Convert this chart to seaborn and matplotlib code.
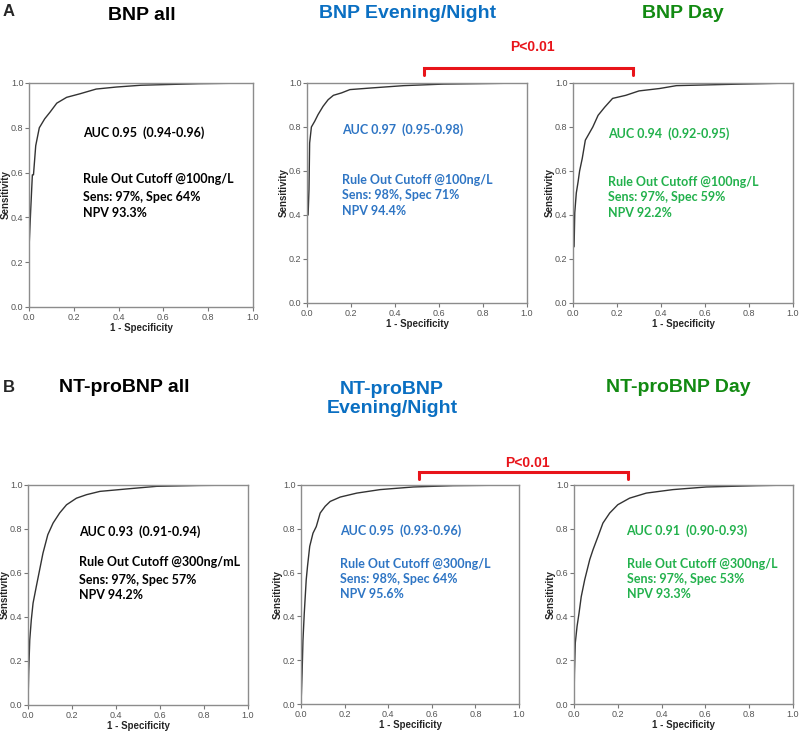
import pandas as pd
import matplotlib.pyplot as plt
import matplotlib.lines as mlines
import seaborn as sns

# ROC points (1 - specificity, sensitivity)
bnp_all_x = [0, 0, 0.007, 0.015, 0.02, 0.03, 0.046, 0.07, 0.094, 0.124, 0.168, 0.228, 0.30, 0.39, 0.50, 0.76, 1.0]
bnp_all_y = [0, 0.26, 0.42, 0.59, 0.59, 0.72, 0.80, 0.84, 0.87, 0.91, 0.936, 0.952, 0.973, 0.982, 0.99, 0.997, 1.0]

bnp_night_x = [0, 0, 0.005, 0.009, 0.012, 0.02, 0.035, 0.05, 0.073, 0.096, 0.12, 0.157, 0.195, 0.286, 0.44, 0.62, 1.0]
bnp_night_y = [0, 0.40, 0.40, 0.515, 0.727, 0.80, 0.826, 0.856, 0.894, 0.924, 0.944, 0.955, 0.97, 0.977, 0.988, 0.995, 1.0]

bnp_day_x = [0, 0, 0.005, 0.008, 0.015, 0.023, 0.03, 0.042, 0.056, 0.073, 0.09, 0.114, 0.144, 0.18, 0.24, 0.30, 0.394, 0.47, 0.758, 1.0]
bnp_day_y = [0, 0.25, 0.257, 0.41, 0.50, 0.55, 0.60, 0.657, 0.74, 0.77, 0.80, 0.853, 0.89, 0.93, 0.944, 0.964, 0.975, 0.988, 0.995, 1.0]

nt_all_x = [0, 0.003, 0.008, 0.015, 0.023, 0.038, 0.053, 0.068, 0.09, 0.114, 0.144, 0.175, 0.22, 0.266, 0.327, 0.448, 0.585, 0.78, 1.0]
nt_all_y = [0, 0.144, 0.296, 0.387, 0.463, 0.54, 0.615, 0.69, 0.774, 0.827, 0.873, 0.91, 0.94, 0.956, 0.971, 0.982, 0.994, 0.998, 1.0]

nt_night_x = [0, 0.002, 0.005, 0.009, 0.015, 0.024, 0.03, 0.04, 0.055, 0.07, 0.088, 0.111, 0.134, 0.18, 0.256, 0.363, 0.515, 0.698, 1.0]
nt_night_y = [0, 0.05, 0.14, 0.29, 0.415, 0.568, 0.63, 0.72, 0.78, 0.81, 0.872, 0.903, 0.925, 0.945, 0.963, 0.979, 0.991, 0.997, 1.0]

nt_day_x = [0, 0.002, 0.006, 0.014, 0.023, 0.033, 0.049, 0.072, 0.087, 0.11, 0.132, 0.163, 0.2, 0.254, 0.33, 0.452, 0.604, 0.833, 1.0]
nt_day_y = [0, 0.14, 0.28, 0.355, 0.415, 0.49, 0.568, 0.66, 0.705, 0.766, 0.826, 0.872, 0.91, 0.94, 0.963, 0.979, 0.991, 0.997, 1.0]

titles = ['BNP all', 'BNP Evening/Night', 'BNP Day',
          'NT-proBNP all', 'NT-proBNP\nEvening/Night', 'NT-proBNP Day']
auc_labels = ['AUC 0.95  (0.94-0.96)', 'AUC 0.97  (0.95-0.98)', 'AUC 0.94  (0.92-0.95)',
              'AUC 0.93  (0.91-0.94)', 'AUC 0.95  (0.93-0.96)', 'AUC 0.91  (0.90-0.93)']
cutoff_labels = ['Rule Out Cutoff @100ng/L', 'Rule Out Cutoff @100ng/L', 'Rule Out Cutoff @100ng/L',
                 'Rule Out Cutoff @300ng/mL', 'Rule Out Cutoff @300ng/L', 'Rule Out Cutoff @300ng/L']
sens_labels = ['Sens: 97%, Spec 64%', 'Sens: 98%, Spec 71%', 'Sens: 97%, Spec 59%',
               'Sens: 97%, Spec 57%', 'Sens: 98%, Spec 64%', 'Sens: 97%, Spec 53%']
npv_labels = ['NPV 93.3%', 'NPV 94.4%', 'NPV 92.2%',
              'NPV 94.2%', 'NPV 95.6%', 'NPV 93.3%']

curves = [(bnp_all_x, bnp_all_y), (bnp_night_x, bnp_night_y), (bnp_day_x, bnp_day_y),
          (nt_all_x, nt_all_y), (nt_night_x, nt_night_y), (nt_day_x, nt_day_y)]

sns.set_style('white')
plt.rcParams['font.family'] = ['Liberation Sans', 'DejaVu Sans']

title_cols = ['black', '#0A6FC2', '#128A12'] * 2
text_cols = ['black', '#2E75C4', '#22B14C'] * 2

# axes boxes in pixels: left, right, top, bottom
boxes = [(29, 253, 83, 307), (307, 527, 83, 303), (573, 793, 83, 303),
         (28, 248, 485, 705), (301, 519, 485, 704), (574, 793, 485, 704)]
# text positions in axes data coords: x, then y for the 4 lines
text_pos = [(0.24, [0.78, 0.57, 0.49, 0.42]), (0.16, [0.79, 0.56, 0.49, 0.42]),
            (0.16, [0.77, 0.55, 0.48, 0.41]), (0.23, [0.79, 0.65, 0.57, 0.50]),
            (0.18, [0.79, 0.64, 0.57, 0.50]), (0.24, [0.79, 0.64, 0.57, 0.50])]
title_xy = [(142, 15), (408, 14), (683, 13), (124, 388), (392, 399), (678, 388)]

W, H = 800, 732
fig = plt.figure(figsize=(8, 7.32), dpi=100)

for i in range(6):
    l, r, t, b = boxes[i]
    ax = fig.add_axes([l / W, 1 - b / H, (r - l) / W, (b - t) / H])
    df = pd.DataFrame({'fpr': curves[i][0], 'tpr': curves[i][1]})
    sns.lineplot(data=df, x='fpr', y='tpr', sort=False, estimator=None,
                 color='#333333', linewidth=1.0, ax=ax)
    ax.set_xlim(0, 1)
    ax.set_ylim(0, 1)
    ticks = [0, 0.2, 0.4, 0.6, 0.8, 1.0]
    ax.set_xticks(ticks)
    ax.set_yticks(ticks)
    ax.set_xticklabels(['%.1f' % v for v in ticks])
    ax.set_yticklabels(['%.1f' % v for v in ticks])
    ax.tick_params(axis='both', direction='out', length=3, width=0.8, color='#777777',
                   labelsize=6.5, labelcolor='#555555', pad=1, bottom=True, left=True)
    for s in ax.spines.values():
        s.set_color('#8c8c8c')
        s.set_linewidth(1.0)
    ax.set_xlabel('1 - Specificity', fontsize=7, fontweight='bold', va='center')
    ax.set_ylabel('Sensitivity', fontsize=7, fontweight='bold', va='center')
    ax.xaxis.set_label_coords(0.5, -21 / (b - t))
    ax.yaxis.set_label_coords(-23 / (r - l), 0.5)

    tx, tys = text_pos[i]
    lines = [auc_labels[i], cutoff_labels[i], sens_labels[i], npv_labels[i]]
    for s, ty in zip(lines, tys):
        ax.text(tx, ty, s, color=text_cols[i], fontsize=9, fontweight='bold',
                family=['Lato', 'DejaVu Sans'], va='center', ha='left')

    x, y = title_xy[i]
    fig.text(x / W, 1 - y / H, titles[i], color=title_cols[i], fontsize=14,
             fontweight='bold', ha='center', va='center', linespacing=1.1)

fig.text(3 / W, 1 - 11 / H, 'A', fontsize=12, fontweight='bold', va='center')
fig.text(3 / W, 1 - 388 / H, 'B', fontsize=12, fontweight='bold', va='center')

# P<0.01 brackets
for (x0, x1, yh, yt, xt, ytx) in [(424, 633, 68, 75, 532, 47), (419, 628, 472, 479, 527, 463)]:
    bx = [x0 / W, x0 / W, x1 / W, x1 / W]
    by = [1 - yt / H, 1 - yh / H, 1 - yh / H, 1 - yt / H]
    fig.add_artist(mlines.Line2D(bx, by, color='#E8141A', linewidth=2.2,
                                 transform=fig.transFigure, solid_joinstyle='miter'))
    fig.text(xt / W, 1 - ytx / H, 'P<0.01', color='#E8141A', fontsize=10,
             fontweight='bold', ha='center', va='center')

fig.savefig('out.png', dpi=100)
